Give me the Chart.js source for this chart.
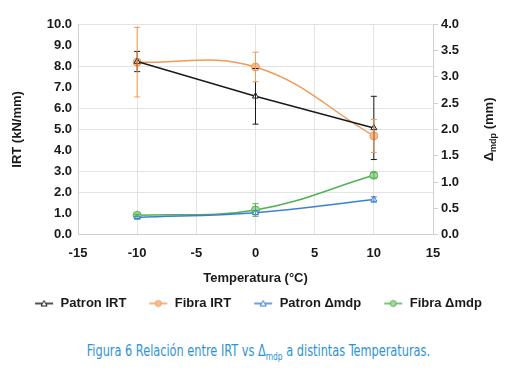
<!DOCTYPE html>
<html>
<head>
<meta charset="utf-8">
<script src="https://cdn.jsdelivr.net/npm/chart.js@4.4.1/dist/chart.umd.min.js"></script>
<style>
  html, body { margin: 0; padding: 0; background: #fff; }
  #wrap { position: relative; width: 516px; height: 324px; }
  #caption {
    width: 516px; text-align: center; margin-top: 18px;
  }
  #caption span {
    display: inline-block;
    font-family: "Liberation Sans Narrow", "DejaVu Sans Condensed", sans-serif;
    font-size: 15px; color: #2b93d8;
    transform: scaleX(0.84);
  }
  #caption sub { font-size: 10px; }
</style>
</head>
<body>
<div id="wrap"><canvas id="chart" width="516" height="324"></canvas></div>
<div id="caption"><span>Figura 6 Relación entre IRT vs Δ<sub>mdp</sub> a distintas Temperaturas.</span></div>
<script>
// temperaturas (°C)
var temps = [-10, 0, 10];

// IRT (kN/mm) — eje izquierdo
var patronIRT = [8.22, 6.57, 5.07];
var patronIRTErr = [0.48, 1.32, 1.5];
var fibraIRT = [8.19, 7.96, 4.69];
var fibraIRTErr = [1.65, 0.7, 0.78];

// Δmdp (mm) — eje derecho
var patronMdp = [0.33, 0.42, 0.67];
var patronMdpErr = [0.02, 0.04, 0.05];
var fibraMdp = [0.37, 0.47, 1.13];
var fibraMdpErr = [0.02, 0.12, 0.05];

var xTicks = [-15, -10, -5, 0, 5, 10, 15];
var leftGridAt = [10, 8, 6, 5, 3, 2, 0];

var FONT = "'Liberation Sans', Arial, sans-serif";

function pts(ys) {
  return temps.map(function (t, i) { return { x: t, y: ys[i] }; });
}

// small canvas for legend entries: line + marker
function legendIcon(color, shape, fill) {
  var c = document.createElement('canvas');
  c.width = 20; c.height = 10;
  var g = c.getContext('2d');
  g.strokeStyle = color; g.lineWidth = 1.5;
  g.beginPath(); g.moveTo(1, 5); g.lineTo(19, 5); g.stroke();
  g.fillStyle = fill;
  g.lineWidth = 1;
  g.beginPath();
  if (shape === 'circle') {
    g.arc(10, 5, 3, 0, Math.PI * 2);
  } else {
    g.moveTo(10, 2); g.lineTo(13, 7.5); g.lineTo(7, 7.5); g.closePath();
  }
  g.fill(); g.stroke();
  return c;
}

var series = [
  { label: 'Patron IRT', data: patronIRT, err: patronIRTErr, color: '#1a1a1a', fill: '#ffffff', shape: 'triangle', axis: 'y', tension: 0 },
  { label: 'Fibra IRT', data: fibraIRT, err: fibraIRTErr, color: '#f39a55', fill: '#f7bd8f', shape: 'circle', axis: 'y', tension: 0.4 },
  { label: 'Patron Δmdp', data: patronMdp, err: patronMdpErr, color: '#3a7fd5', fill: '#ffffff', shape: 'triangle', axis: 'y1', tension: 0.4 },
  { label: 'Fibra Δmdp', data: fibraMdp, err: fibraMdpErr, color: '#4fb352', fill: '#a6d99a', shape: 'circle', axis: 'y1', tension: 0.4 }
];

var datasets = series.map(function (s) {
  return {
    label: s.label,
    data: pts(s.data),
    errors: s.err,
    yAxisID: s.axis,
    showLine: true,
    borderColor: s.color,
    backgroundColor: s.fill,
    borderWidth: 1.5,
    pointStyle: s.shape,
    pointRadius: s.shape === 'circle' ? 4 : 3.5,
    pointBorderWidth: 1,
    pointBorderColor: s.color,
    pointBackgroundColor: s.fill,
    tension: s.tension,
    legendIcon: legendIcon(s.color, s.shape, s.fill)
  };
});

// error bars, drawn from the chart scales
var errorBars = {
  id: 'errorBars',
  afterDatasetsDraw: function (chart) {
    var ctx = chart.ctx;
    var xs = chart.scales.x;
    chart.data.datasets.forEach(function (ds) {
      var ys = chart.scales[ds.yAxisID];
      ctx.save();
      ctx.strokeStyle = ds.borderColor;
      ctx.lineWidth = 1;
      ds.data.forEach(function (p, i) {
        var e = ds.errors[i];
        var px = xs.getPixelForValue(p.x);
        var top = ys.getPixelForValue(p.y + e);
        var bot = ys.getPixelForValue(p.y - e);
        ctx.beginPath();
        ctx.moveTo(px, top); ctx.lineTo(px, bot);
        ctx.moveTo(px - 3, top); ctx.lineTo(px + 3, top);
        ctx.moveTo(px - 3, bot); ctx.lineTo(px + 3, bot);
        ctx.stroke();
      });
      ctx.restore();
    });
  }
};

// right axis title with subscript
var rightTitle = {
  id: 'rightTitle',
  afterDraw: function (chart) {
    var ctx = chart.ctx;
    var area = chart.chartArea;
    var cx = 489, cy = (area.top + area.bottom) / 2;
    ctx.save();
    ctx.translate(cx, cy);
    ctx.rotate(-Math.PI / 2);
    ctx.fillStyle = '#1a1a1a';
    ctx.textBaseline = 'middle';
    var big = 'bold 13px ' + FONT, small = 'bold 9px ' + FONT;
    ctx.font = big; var w1 = ctx.measureText('Δ').width;
    var w3 = ctx.measureText(' (mm)').width;
    ctx.font = small; var w2 = ctx.measureText('mdp').width;
    var x0 = -(w1 + w2 + w3) / 2;
    ctx.font = big; ctx.fillText('Δ', x0, 0);
    ctx.font = small; ctx.fillText('mdp', x0 + w1, 5);
    ctx.font = big; ctx.fillText(' (mm)', x0 + w1 + w2, 0);
    ctx.restore();
  }
};

new Chart(document.getElementById('chart'), {
  type: 'scatter',
  data: { datasets: datasets },
  plugins: [errorBars, rightTitle],
  options: {
    responsive: false,
    animation: false,
    layout: { padding: { top: 24, right: 4, left: 4, bottom: 4 } },
    plugins: {
      tooltip: { enabled: false },
      legend: {
        position: 'bottom',
        labels: {
          usePointStyle: true,
          pointStyleWidth: 20,
          padding: 22,
          color: '#1a1a1a',
          font: { family: FONT, size: 13, weight: 'bold' },
          generateLabels: function (chart) {
            return chart.data.datasets.map(function (ds, i) {
              return {
                text: ds.label,
                pointStyle: ds.legendIcon,
                fillStyle: ds.backgroundColor,
                strokeStyle: ds.borderColor,
                lineWidth: 0,
                datasetIndex: i,
                fontColor: '#1a1a1a'
              };
            });
          }
        }
      }
    },
    scales: {
      x: {
        type: 'linear',
        min: -15, max: 15,
        afterBuildTicks: function (s) { s.ticks = xTicks.map(function (v) { return { value: v }; }); },
        ticks: { color: '#1a1a1a', font: { family: FONT, size: 13, weight: 'bold' }, padding: 11 },
        grid: { color: '#e3e3e3', drawTicks: false },
        border: { color: '#d0d0d0' },
        title: { display: true, text: 'Temperatura (°C)', color: '#1a1a1a', font: { family: FONT, size: 13, weight: 'bold' }, padding: { top: -2, bottom: -11 } }
      },
      y: {
        position: 'left',
        min: 0, max: 10,
        afterFit: function (s) { s.width = 74; },
        ticks: {
          stepSize: 1,
          autoSkip: false,
          color: '#1a1a1a',
          font: { family: FONT, size: 13, weight: 'bold' },
          padding: 6,
          callback: function (v) { return v.toFixed(1); }
        },
        grid: {
          drawTicks: false,
          color: function (c) { return leftGridAt.indexOf(c.tick.value) >= 0 ? '#e3e3e3' : 'rgba(0,0,0,0)'; }
        },
        border: { color: '#d0d0d0' },
        title: { display: true, text: 'IRT (kN/mm)', color: '#1a1a1a', font: { family: FONT, size: 13, weight: 'bold' }, padding: { top: 6, bottom: 8 } }
      },
      y1: {
        position: 'right',
        min: 0, max: 4,
        afterFit: function (s) { s.width = 79; },
        ticks: {
          stepSize: 0.5,
          autoSkip: false,
          color: '#1a1a1a',
          font: { family: FONT, size: 13, weight: 'bold' },
          padding: 3,
          callback: function (v) { return v.toFixed(1); }
        },
        grid: { drawOnChartArea: false, color: '#d0d0d0', tickLength: 5 },
        border: { color: '#d0d0d0' }
      }
    }
  }
});
</script>
</body>
</html>
